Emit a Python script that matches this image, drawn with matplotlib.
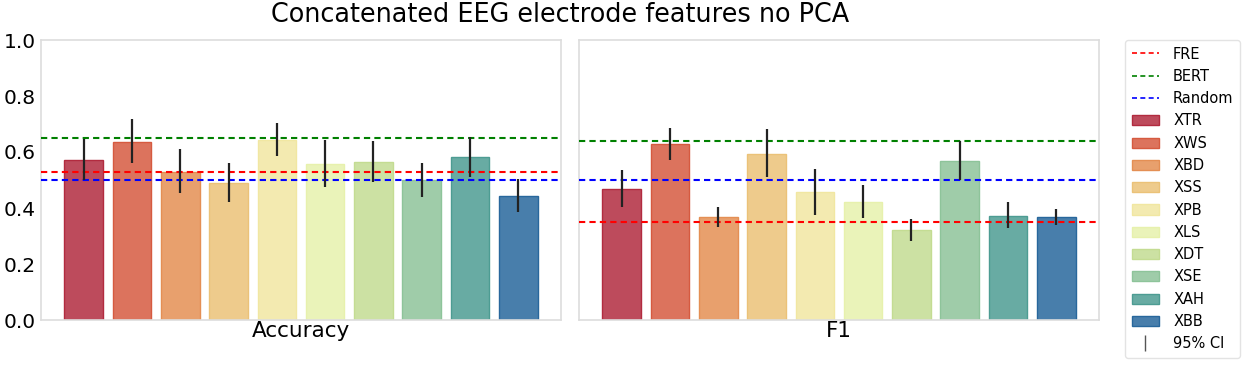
import numpy as np
import matplotlib
matplotlib.use("Agg")
import matplotlib.pyplot as plt
from matplotlib.patches import Patch
from matplotlib.lines import Line2D

models = ["XTR", "XWS", "XBD", "XSS", "XPB", "XLS", "XDT", "XSE", "XAH", "XBB"]
colors = ["#B22B3F", "#D65A40", "#E48F54", "#EBC278", "#F1E7A2",
          "#E7F1AD", "#C4DC93", "#8EC49A", "#4D9C93", "#28679C"]

# Accuracy: mean and 95% CI bounds
acc_mean = [0.571, 0.637, 0.530, 0.490, 0.643, 0.557, 0.564, 0.500, 0.581, 0.443]
acc_low  = [0.500, 0.560, 0.455, 0.423, 0.587, 0.476, 0.494, 0.438, 0.510, 0.385]
acc_high = [0.645, 0.718, 0.610, 0.560, 0.702, 0.643, 0.639, 0.562, 0.655, 0.504]

# F1: mean and 95% CI bounds
f1_mean = [0.469, 0.629, 0.367, 0.594, 0.456, 0.423, 0.321, 0.569, 0.373, 0.367]
f1_low  = [0.402, 0.570, 0.331, 0.511, 0.376, 0.364, 0.282, 0.500, 0.329, 0.338]
f1_high = [0.536, 0.687, 0.402, 0.681, 0.538, 0.481, 0.360, 0.639, 0.421, 0.396]

# baselines (FRE, BERT, Random)
baseline_names = ["FRE", "BERT", "Random"]
baseline_colors = ["red", "green", "blue"]
acc_baselines = [0.530, 0.651, 0.500]
f1_baselines = [0.350, 0.639, 0.500]

metrics = ["Accuracy", "F1"]
panels = [(acc_mean, acc_low, acc_high, acc_baselines),
          (f1_mean, f1_low, f1_high, f1_baselines)]

W, H = 1248, 368
fig = plt.figure(figsize=(W / 100, H / 100), dpi=100)

ax_left = [41, 579]
for i, (mean, low, high, base) in enumerate(panels):
    ax = fig.add_axes([ax_left[i] / W, 48 / H, 520 / W, 280 / H])
    x = np.arange(len(models))
    fc = [matplotlib.colors.to_rgba(c, 0.85) for c in colors]
    ax.bar(x, mean, width=0.8, color=fc, edgecolor=colors, linewidth=1.0, zorder=2)
    ax.vlines(x, low, high, color="#222222", linewidth=1.6, zorder=4)
    for b, c in zip(base, baseline_colors):
        ax.axhline(b, color=c, linestyle="--", linewidth=1.5, dashes=(3, 2), zorder=3)
    ax.set_xlim(-0.885, 9.885)
    ax.set_ylim(0, 1.0)
    ax.set_xticks([4.5])
    ax.set_xticklabels([metrics[i]], fontsize=15.5)
    ax.set_yticks(np.arange(0, 1.01, 0.2))
    if i == 0:
        ax.set_yticklabels([f"{v:.1f}" for v in np.arange(0, 1.01, 0.2)], fontsize=14.5)
    else:
        ax.set_yticklabels([])
    ax.tick_params(length=0, pad=4)
    ax.tick_params(axis="x", pad=1)
    for s in ax.spines.values():
        s.set_color("#dddddd")
        s.set_linewidth(1.2)

fig.text(560 / W, 1 - 15 / H, "Concatenated EEG electrode features no PCA",
         ha="center", va="center", fontsize=18.4)

handles = [Line2D([0], [0], color=c, linestyle="--", linewidth=1.2, dashes=(3, 2))
           for c in baseline_colors]
handles += [Patch(facecolor=matplotlib.colors.to_rgba(c, 0.85), edgecolor=c) for c in colors]
handles += [Line2D([0], [0], color="#555555", marker="|", linestyle="none", markersize=12)]
labels = baseline_names + models + ["95% CI"]
leg = fig.legend(handles, labels, loc="upper left",
                 bbox_to_anchor=(1125 / W, 1 - 40 / H), borderaxespad=0, fontsize=10.5,
                 labelspacing=0.5, handlelength=1.9, handletextpad=0.95,
                 frameon=True, borderpad=0.45)
leg.get_frame().set_edgecolor("#dddddd")

fig.savefig("out.png", dpi=100)
